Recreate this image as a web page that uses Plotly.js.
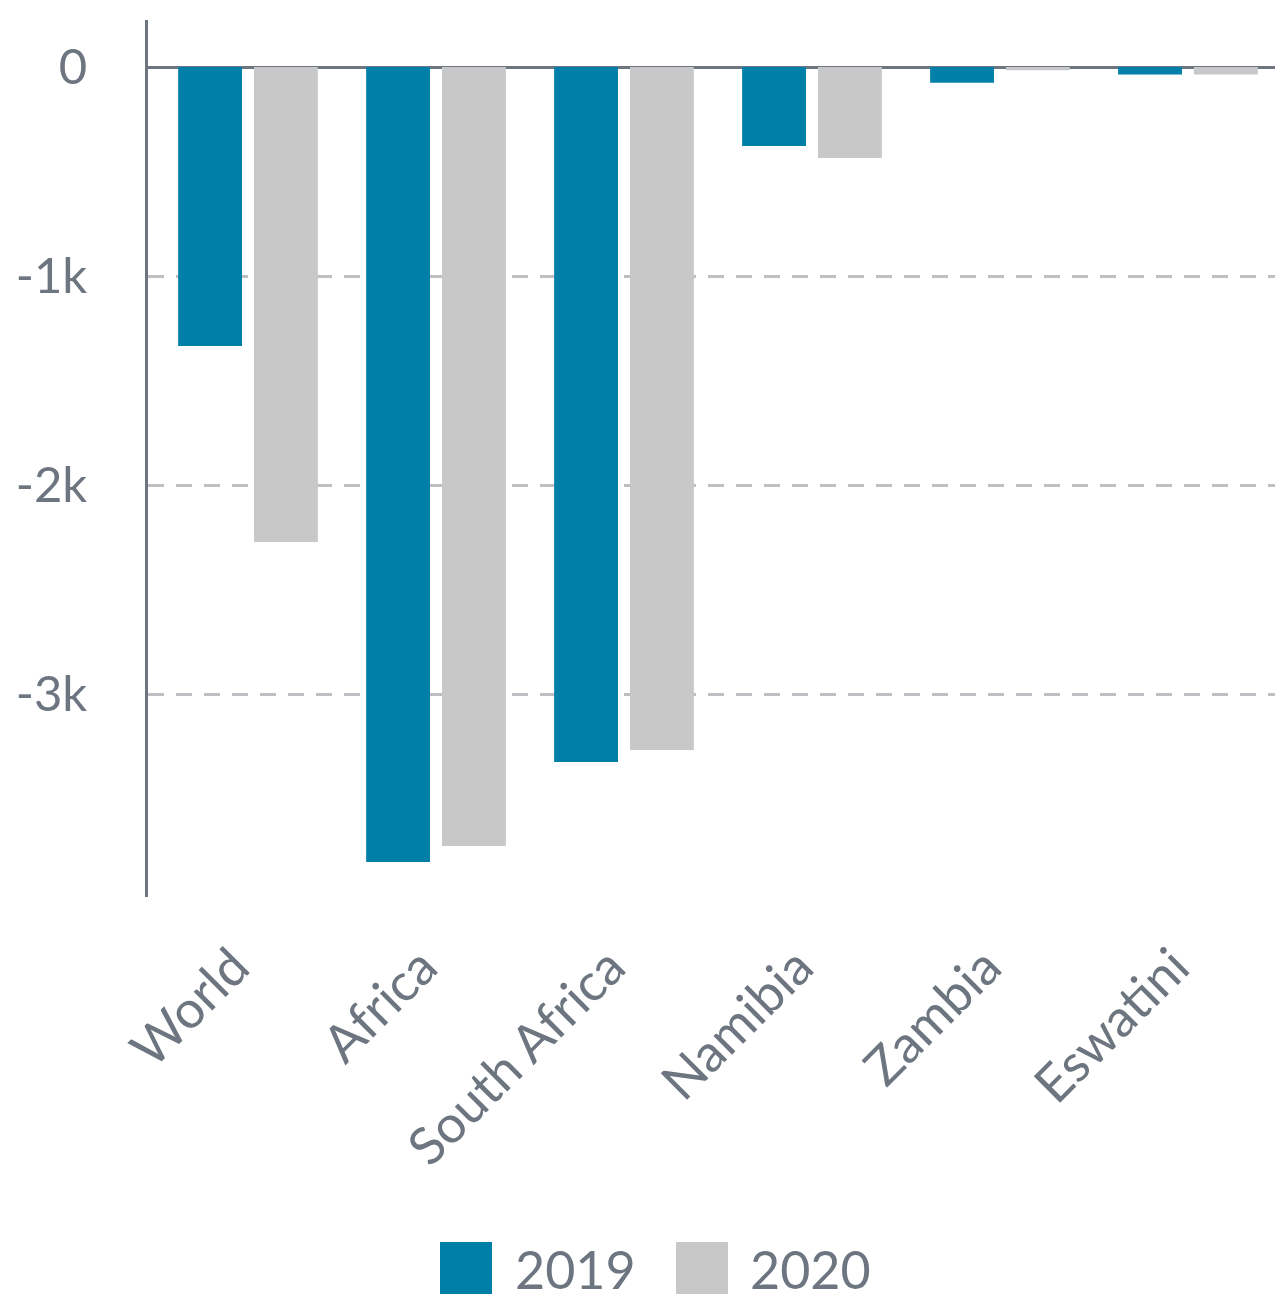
<!DOCTYPE html>
<html>
<head>
<meta charset="utf-8">
<script src="https://cdn.plot.ly/plotly-3.0.1.min.js"></script>
<style>
  html, body { margin: 0; padding: 0; background: #ffffff; }
  #chart { width: 1275px; height: 1295px; }
</style>
</head>
<body>
<div id="chart"></div>
<script>
// ---- data ----
var categories = ["World", "Africa", "South Africa", "Namibia", "Zambia", "Eswatini"];
var seriesNames = ["2019", "2020"];
var values2019 = [-1335, -3804, -3325, -378, -75, -36];
var values2020 = [-2273, -3727, -3268, -435, -15, -36];
var yTickVals = [0, -1000, -2000, -3000];
var yTickText = ["0", "-1k", "-2k", "-3k"];

// ---- styles ----
var colors = ["#0080a8", "#c8c8c8"];
var textColor = "#6d7580";
var W = 1275, H = 1295;
var mL = 148, mR = 0, mT = 20, mB = 398;
var plotW = W - mL - mR, plotH = H - mT - mB;
function px2x(px) { return (px - mL) / plotW; }
function px2y(py) { return (H - mB - py) / plotH; }

var traces = [
  { type: "bar", name: seriesNames[0], x: categories, y: values2019,
    marker: { color: colors[0] }, showlegend: false, hoverinfo: "x+y" },
  { type: "bar", name: seriesNames[1], x: categories, y: values2020,
    marker: { color: colors[1] }, showlegend: false, hoverinfo: "x+y" }
];

// custom legend (large swatches)
var shapes = [];
var annotations = [];
var legendSwatchX = [440, 676];
var legendTextX = [513, 748];
var legendTop = 1242, legendSize = 52;
for (var i = 0; i < seriesNames.length; i++) {
  shapes.push({
    type: "rect", xref: "paper", yref: "paper",
    x0: px2x(legendSwatchX[i]), x1: px2x(legendSwatchX[i] + legendSize),
    y0: px2y(legendTop + legendSize), y1: px2y(legendTop),
    fillcolor: colors[i], line: { width: 0 }
  });
  annotations.push({
    xref: "paper", yref: "paper", x: px2x(legendTextX[i]), y: px2y(legendTop + legendSize / 2 + 1),
    xanchor: "left", yanchor: "middle", showarrow: false, text: seriesNames[i],
    height: 50, valign: "middle",
    font: { family: "Lato, sans-serif", size: 52, color: textColor }
  });
}

var layout = {
  width: W, height: H,
  margin: { l: mL, r: mR, t: mT, b: mB, pad: 0 },
  paper_bgcolor: "#ffffff", plot_bgcolor: "#ffffff",
  font: { family: "Lato, sans-serif", color: textColor },
  barmode: "group",
  bargap: 0.193,
  bargroupgap: 0.158,
  showlegend: false,
  xaxis: {
    type: "category",
    range: [-0.532, 5.463],
    showgrid: false, zeroline: false, showline: false,
    ticks: "", tickangle: -45, ticklabelstandoff: 28, ticklabelshift: -14,
    tickfont: { family: "Lato, sans-serif", size: 52, color: textColor }
  },
  yaxis: {
    range: [-3971, 225],
    tickvals: yTickVals, ticktext: yTickText,
    showline: true, linecolor: textColor, linewidth: 3,
    showgrid: true, gridcolor: "#bdbfc2", gridwidth: 3, griddash: "16px,12px",
    zeroline: true, zerolinecolor: textColor, zerolinewidth: 3,
    ticks: "", ticklabelstandoff: 48,
    tickfont: { family: "Lato, sans-serif", size: 49, color: textColor }
  },
  shapes: shapes,
  annotations: annotations
};

Plotly.newPlot("chart", traces, layout, { displayModeBar: false, staticPlot: true });
</script>
</body>
</html>
